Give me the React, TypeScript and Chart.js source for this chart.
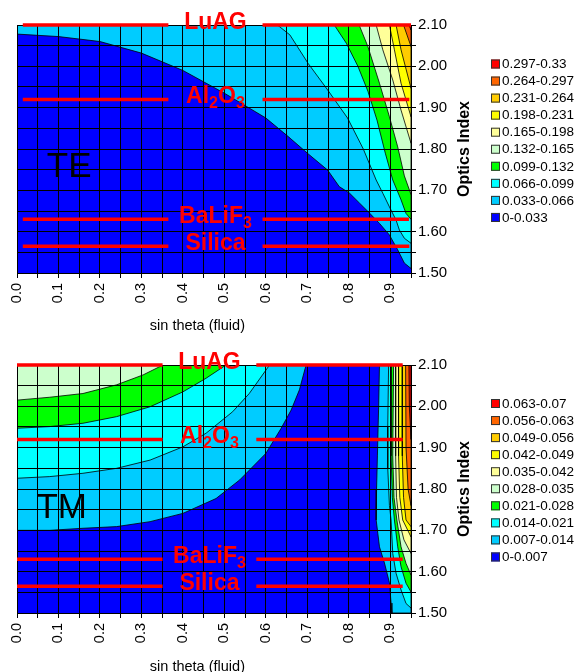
import React, { useEffect, useRef } from 'react';
import { Chart, registerables } from 'chart.js';
Chart.register(...registerables);

const FONT = '"Liberation Sans", Arial, Helvetica, sans-serif';

// ---- axes ----
const X_MIN = 0;
const X_MAX = 0.95;
const Y_MIN = 1.5;
const Y_MAX = 2.1;
const xAxisTitle = 'sin theta (fluid)';
const yAxisTitle = 'Optics Index';

// ---- contour levels ----
const levelColors = ['#0000FF', '#00CCFF', '#00FFFF', '#00FF00', '#CCFFCC', '#FFFF99', '#FFFF00', '#FFCC00', '#FF6600', '#FF0000'];
const teLevelLabels = ['0-0.033', '0.033-0.066', '0.066-0.099', '0.099-0.132', '0.132-0.165', '0.165-0.198', '0.198-0.231', '0.231-0.264', '0.264-0.297', '0.297-0.33'];
const tmLevelLabels = ['0-0.007', '0.007-0.014', '0.014-0.021', '0.021-0.028', '0.028-0.035', '0.035-0.042', '0.042-0.049', '0.049-0.056', '0.056-0.063', '0.063-0.07'];

// ---- materials (red reference lines) ----
const materialNames = ['LuAG', 'Al2O3', 'BaLiF3', 'Silica'];
const materialIndex = [2.1, 1.92, 1.63, 1.565];

// ---- TE iso-lines [sin theta, index] ----
const teLine033 = [[0, 2.078], [0.1, 2.072], [0.2, 2.06], [0.3, 2.032], [0.4, 1.99], [0.5, 1.935], [0.6, 1.875], [0.654, 1.83], [0.7, 1.79], [0.749, 1.749], [0.777, 1.709], [0.802, 1.693], [0.826, 1.669], [0.85, 1.645], [0.874, 1.62], [0.898, 1.592], [0.918, 1.556], [0.934, 1.524], [0.95, 1.511]];
const teLine066 = [[0.628, 2.1], [0.658, 2.076], [0.702, 2.007], [0.749, 1.943], [0.797, 1.875], [0.835, 1.8], [0.866, 1.725], [0.882, 1.693], [0.898, 1.66], [0.914, 1.628], [0.922, 1.604], [0.934, 1.584], [0.95, 1.572]];
const teLine099 = [[0.765, 2.1], [0.794, 2.056], [0.822, 2.0], [0.846, 1.94], [0.868, 1.87], [0.888, 1.79], [0.906, 1.725], [0.926, 1.677], [0.938, 1.644], [0.95, 1.63]];
const teLine132 = [[0.825, 2.1], [0.846, 2.048], [0.874, 1.959], [0.898, 1.878], [0.918, 1.805], [0.934, 1.735], [0.95, 1.69]];
const teLine165 = [[0.866, 2.1], [0.882, 2.04], [0.906, 1.967], [0.926, 1.894], [0.95, 1.814]];
const teLine198 = [[0.898, 2.1], [0.91, 2.04], [0.926, 1.959], [0.95, 1.878]];
const teLine231 = [[0.914, 2.1], [0.926, 2.04], [0.95, 1.947]];
const teLine264 = [[0.932, 2.1], [0.95, 2.048]];
const teLine297 = [[0.945, 2.1], [0.95, 2.088]];

// ---- TM iso-lines ----
const tmLeft007 = [[0, 1.7], [0.079, 1.7], [0.159, 1.705], [0.24, 1.709], [0.321, 1.721], [0.4, 1.741], [0.48, 1.777], [0.537, 1.822], [0.6, 1.886], [0.637, 1.947], [0.661, 1.991], [0.681, 2.04], [0.697, 2.1]];
const tmLeft014 = [[0, 1.826], [0.079, 1.83], [0.159, 1.838], [0.24, 1.85], [0.321, 1.87], [0.4, 1.902], [0.456, 1.935], [0.52, 1.987], [0.56, 2.031], [0.609, 2.1]];
const tmLeft021 = [[0, 1.947], [0.079, 1.951], [0.159, 1.959], [0.24, 1.975], [0.321, 1.999], [0.4, 2.035], [0.456, 2.068], [0.504, 2.1]];
const tmLeft028 = [[0, 2.015], [0.079, 2.022], [0.159, 2.031], [0.24, 2.052], [0.304, 2.076], [0.352, 2.1]];
const tmRight007 = [[0.874, 2.1], [0.872, 2.0], [0.869, 1.88], [0.867, 1.8], [0.866, 1.725], [0.874, 1.66], [0.886, 1.621], [0.898, 1.573], [0.902, 1.524], [0.904, 1.5]];
const tmRight014 = [[0.896, 2.1], [0.894, 1.95], [0.894, 1.85], [0.898, 1.76], [0.902, 1.725], [0.906, 1.644], [0.914, 1.596], [0.926, 1.556], [0.938, 1.523], [0.95, 1.512]];
const tmRight021 = [[0.902, 2.1], [0.902, 1.88], [0.905, 1.78], [0.91, 1.725], [0.918, 1.66], [0.926, 1.612], [0.938, 1.572], [0.95, 1.551]];
const tmRight028 = [[0.908, 2.1], [0.906, 1.88], [0.909, 1.78], [0.916, 1.725], [0.926, 1.66], [0.938, 1.62], [0.95, 1.592]];
const tmRight035 = [[0.913, 2.1], [0.913, 1.88], [0.915, 1.78], [0.921, 1.725], [0.933, 1.677], [0.95, 1.644]];
const tmRight042 = [[0.92, 2.1], [0.92, 1.88], [0.923, 1.78], [0.93, 1.725], [0.95, 1.684]];
const tmRight049 = [[0.929, 2.1], [0.929, 1.88], [0.932, 1.78], [0.938, 1.725], [0.95, 1.709]];
const tmRight056 = [[0.937, 2.1], [0.938, 1.9], [0.943, 1.8], [0.95, 1.76]];
const tmRight063 = [[0.945, 2.1], [0.946, 2.0], [0.95, 1.92]];

const TL = [X_MIN, Y_MAX];
const TR = [X_MAX, Y_MAX];
const BR = [X_MAX, Y_MIN];

const teRegions = [
  { level: 1, line: teLine033, close: [TR, TL] },
  { level: 2, line: teLine066, close: [TR] },
  { level: 3, line: teLine099, close: [TR] },
  { level: 4, line: teLine132, close: [TR] },
  { level: 5, line: teLine165, close: [TR] },
  { level: 6, line: teLine198, close: [TR] },
  { level: 7, line: teLine231, close: [TR] },
  { level: 8, line: teLine264, close: [TR] },
  { level: 9, line: teLine297, close: [TR] },
];

const tmRegions = [
  { level: 1, line: tmLeft007, close: [TL] },
  { level: 1, line: tmRight007, close: [BR, TR] },
  { level: 2, line: tmLeft014, close: [TL] },
  { level: 2, line: tmRight014, close: [TR] },
  { level: 3, line: tmLeft021, close: [TL] },
  { level: 3, line: tmRight021, close: [TR] },
  { level: 4, line: tmLeft028, close: [TL] },
  { level: 4, line: tmRight028, close: [TR] },
  { level: 5, line: tmRight035, close: [TR] },
  { level: 6, line: tmRight042, close: [TR] },
  { level: 7, line: tmRight049, close: [TR] },
  { level: 8, line: tmRight056, close: [TR] },
  { level: 9, line: tmRight063, close: [TR] },
];

type Spec = {
  regions: { level: number; line: number[][]; close: number[][] }[];
  labels: string[];
  mode: string;
  modeAt: number[];
  seg: number[]; // left start, left end, right start
  segEnd: number[];
  xAxisH: number;
  xTitleDy: number;
  legendTop: number;
};

const teSpec: Spec = {
  regions: teRegions,
  labels: teLevelLabels,
  mode: 'TE',
  modeAt: [0.072, 1.732],
  seg: [0.014, 0.365, 0.592],
  segEnd: [0.95, 0.946, 0.945, 0.946],
  xAxisH: 67,
  xTitleDy: 52.5,
  legendTop: 64,
};

const tmSpec: Spec = {
  regions: tmRegions,
  labels: tmLevelLabels,
  mode: 'TM',
  modeAt: [0.047, 1.73],
  seg: [0, 0.351, 0.577],
  segEnd: [0.93, 0.93, 0.93, 0.93],
  xAxisH: 59,
  xTitleDy: 54,
  legendTop: 63.5,
};

const toXY = (pts: number[][]) => pts.map((p) => ({ x: p[0], y: p[1] }));

function buildDatasets(spec: Spec) {
  const list: any[] = [
    {
      label: spec.labels[0],
      data: toXY([[X_MIN, Y_MIN], [X_MAX, Y_MIN], [X_MAX, Y_MAX], [X_MIN, Y_MAX]]),
      backgroundColor: levelColors[0],
      borderWidth: 0,
      borderColor: 'rgba(0,0,0,0)',
      fill: 'shape',
    },
    ...spec.regions.map((r) => ({
      label: spec.labels[r.level],
      data: toXY([...r.line, ...r.close]),
      backgroundColor: levelColors[r.level],
      borderColor: '#000',
      borderWidth: 0.8,
      fill: 'shape',
    })),
  ];
  return list.map((d, i) => ({
    ...d,
    order: list.length - i,
    pointRadius: 0,
    pointHoverRadius: 0,
    pointHitRadius: 0,
    tension: 0,
  }));
}

function drawRich(ctx: CanvasRenderingContext2D, text: string, cx: number, baseline: number) {
  const parts = text.split(/(\d+)/).filter((s) => s.length > 0);
  const big = `bold 23px ${FONT}`;
  const small = `bold 16px ${FONT}`;
  let total = 0;
  const widths = parts.map((p) => {
    ctx.font = /\d/.test(p) ? small : big;
    const w = ctx.measureText(p).width;
    total += w;
    return w;
  });
  let x = cx - total / 2;
  ctx.textAlign = 'left';
  ctx.textBaseline = 'alphabetic';
  parts.forEach((p, i) => {
    const sub = /\d/.test(p);
    ctx.font = sub ? small : big;
    ctx.fillText(p, x, baseline + (sub ? 5 : 0));
    x += widths[i];
  });
}

function overlayPlugin(spec: Spec) {
  return {
    id: 'overlay',
    afterDraw(chart: any) {
      const { ctx, chartArea } = chart;
      const xs = chart.scales.x;
      const ys = chart.scales.y;
      ctx.save();
      // red material lines & labels
      materialIndex.forEach((v, i) => {
        const py = ys.getPixelForValue(v);
        ctx.strokeStyle = '#FF0000';
        ctx.lineWidth = 3.5;
        ctx.lineCap = 'butt';
        ctx.beginPath();
        ctx.moveTo(xs.getPixelForValue(spec.seg[0]), py);
        ctx.lineTo(xs.getPixelForValue(spec.seg[1]), py);
        ctx.moveTo(xs.getPixelForValue(spec.seg[2]), py);
        ctx.lineTo(xs.getPixelForValue(spec.segEnd[i]), py);
        ctx.stroke();
        const cx = (xs.getPixelForValue(spec.seg[1]) + xs.getPixelForValue(spec.seg[2])) / 2;
        ctx.fillStyle = '#FF0000';
        drawRich(ctx, materialNames[i], cx, py + 4);
      });
      // mode label
      ctx.fillStyle = '#000';
      ctx.font = `35px ${FONT}`;
      ctx.textAlign = 'left';
      ctx.textBaseline = 'alphabetic';
      ctx.fillText(spec.mode, xs.getPixelForValue(spec.modeAt[0]), ys.getPixelForValue(spec.modeAt[1]));
      // x title
      ctx.font = `14.5px ${FONT}`;
      ctx.textAlign = 'center';
      ctx.textBaseline = 'middle';
      ctx.fillText(xAxisTitle, xs.getPixelForValue(0.435), chartArea.bottom + spec.xTitleDy);
      // y title
      ctx.save();
      ctx.translate(465, (chartArea.top + chartArea.bottom) / 2);
      ctx.rotate(-Math.PI / 2);
      ctx.font = `bold 16px ${FONT}`;
      ctx.fillText(yAxisTitle, 0, 0);
      ctx.restore();
      // legend (highest level on top)
      const n = spec.labels.length;
      ctx.font = `13.5px ${FONT}`;
      ctx.textAlign = 'left';
      ctx.textBaseline = 'middle';
      for (let i = 0; i < n; i++) {
        const lvl = n - 1 - i;
        const cy = spec.legendTop + i * 17.05;
        ctx.fillStyle = levelColors[lvl];
        ctx.fillRect(491, cy - 4.5, 9, 9);
        ctx.strokeStyle = '#333';
        ctx.lineWidth = 1;
        ctx.strokeRect(491.5, cy - 4, 8, 8);
        ctx.fillStyle = '#000';
        ctx.fillText(spec.labels[lvl], 502, cy + 0.5);
      }
      ctx.restore();
    },
  };
}

function makeChart(canvas: HTMLCanvasElement, spec: Spec) {
  return new Chart(canvas, {
    type: 'line',
    data: { datasets: buildDatasets(spec) },
    options: {
      responsive: false,
      animation: false,
      events: [],
      layout: { padding: { left: 17, top: 25, right: 0, bottom: 0 } },
      plugins: {
        legend: { display: false },
        tooltip: { enabled: false },
      },
      scales: {
        x: {
          type: 'linear',
          position: 'bottom',
          min: X_MIN,
          max: X_MAX,
          afterFit: (s: any) => {
            s.height = spec.xAxisH;
          },
          grid: { color: '#000', lineWidth: 1, tickLength: 5, tickColor: '#000', z: 1 },
          border: { color: '#000', width: 1, z: 1 },
          ticks: {
            stepSize: 0.05,
            maxTicksLimit: 100,
            autoSkip: false,
            minRotation: 90,
            maxRotation: 90,
            padding: 5,
            color: '#000',
            font: { family: FONT, size: 14.5 },
            callback: (v: any) => (Math.abs(v * 10 - Math.round(v * 10)) < 1e-6 ? Number(v).toFixed(1) : ''),
          },
        },
        y: {
          type: 'linear',
          position: 'right',
          min: Y_MIN,
          max: Y_MAX,
          afterFit: (s: any) => {
            s.width = 164;
          },
          grid: { color: '#000', lineWidth: 1, tickLength: 5, tickColor: '#000', z: 1 },
          border: { color: '#000', width: 1, z: 1 },
          ticks: {
            stepSize: 0.05,
            maxTicksLimit: 100,
            autoSkip: false,
            padding: 2,
            crossAlign: 'near',
            color: '#000',
            font: { family: FONT, size: 15 },
            callback: (v: any) => (Math.abs(v * 10 - Math.round(v * 10)) < 1e-6 ? Number(v).toFixed(2) : ''),
          },
        },
      },
    } as any,
    plugins: [overlayPlugin(spec)],
  });
}

export default function App() {
  const topRef = useRef<HTMLCanvasElement>(null);
  const botRef = useRef<HTMLCanvasElement>(null);
  useEffect(() => {
    const a = makeChart(topRef.current!, teSpec);
    const b = makeChart(botRef.current!, tmSpec);
    return () => {
      a.destroy();
      b.destroy();
    };
  }, []);
  return (
    <div style={{ position: 'absolute', left: 0, top: 0, width: 575, height: 672, background: '#fff' }}>
      <canvas ref={topRef} width={575} height={340} style={{ display: 'block', position: 'absolute', left: 0, top: 0 }} />
      <canvas ref={botRef} width={575} height={332} style={{ display: 'block', position: 'absolute', left: 0, top: 340 }} />
    </div>
  );
}
